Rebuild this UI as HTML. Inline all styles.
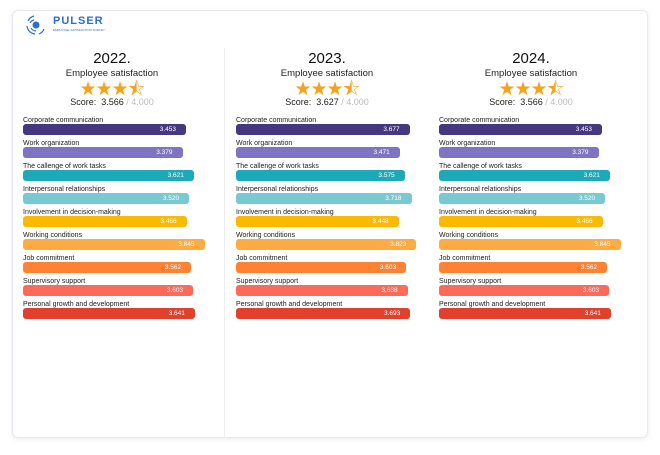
<!DOCTYPE html>
<html><head><meta charset="utf-8"><style>
*{margin:0;padding:0;box-sizing:border-box}
body{width:660px;height:455px;background:#fff;font-family:"Liberation Sans",sans-serif;position:relative;overflow:hidden}
.card{position:absolute;left:12px;top:10px;width:636px;height:428px;border:1px solid #e6e8ee;border-radius:6px;box-shadow:0 1px 6px rgba(0,0,0,.08);background:#fff}
.sep{position:absolute;left:224px;top:48px;width:1px;height:390px;background:#eceef2}
.yr{position:absolute;width:200px;text-align:center;top:50px;font-size:15px;color:#111}
.es{position:absolute;width:200px;text-align:center;top:68px;font-size:9.5px;color:#222}
.st{position:absolute;width:200px;text-align:center;top:75px;font-size:19px;color:#f7a21b;letter-spacing:-1px}
.sc{position:absolute;width:200px;text-align:center;top:97px;font-size:9px;color:#222}
.sc span{color:#bbb}
.lb{position:absolute;font-size:7px;color:#222;white-space:nowrap}
.bar{position:absolute;height:11px;border-radius:3px;color:#fff;font-size:6.5px;text-align:right;padding-right:10px;line-height:11px}
</style></head><body>
<div class="card"></div>
<div class="sep"></div>
<svg style="position:absolute;left:24px;top:13px" width="24" height="24" viewBox="0 0 24 24"><circle cx="12" cy="12" r="3.5" fill="#2a6fc9"/><path d="M4 8a9 9 0 0 1 6-5M3 13a9 9 0 0 0 8 8M20 16a9 9 0 0 1-5 5M6 10a6 6 0 0 1 4-3M7 15a6 6 0 0 0 5 3" stroke="#2a6fc9" stroke-width="1.2" fill="none"/></svg>
<div style="position:absolute;left:53px;top:15px;font-size:11px;font-weight:bold;color:#2a6fc9;letter-spacing:1px">PULSER</div>
<div style="position:absolute;left:53px;top:28px;font-size:3px;color:#2a6fc9">EMPLOYEE SATISFACTION SURVEY</div>
<div id="c"></div>
<script>
const names=["Corporate communication","Work organization","The callenge of work tasks","Interpersonal relationships","Involvement in decision-making","Working conditions","Job commitment","Supervisory support","Personal growth and development"];
const colors=["#46387f","#7f73c4","#1ea9b8","#79c9d3","#fbb900","#fdab45","#fe8231","#fe6a5a","#e0402c"];
const cols=[{x:23,cx:112,y:"2022.",s:"3.566",v:[3.453,3.379,3.621,3.520,3.466,3.845,3.562,3.603,3.641]},
{x:236,cx:327,y:"2023.",s:"3.627",v:[3.677,3.471,3.575,3.718,3.448,3.823,3.603,3.638,3.693]},
{x:439,cx:531,y:"2024.",s:"3.566",v:[3.453,3.379,3.621,3.520,3.466,3.845,3.562,3.603,3.641]}];
let h="";
for(const c of cols){const l=c.cx-100;
h+=`<div class="yr" style="left:${l}px">${c.y}</div><div class="es" style="left:${l}px">Employee satisfaction</div><div class="st" style="left:${l}px">★★★⯪</div><div class="sc" style="left:${l}px">Score:&nbsp; ${c.s} <span>/ 4.000</span></div>`;
c.v.forEach((v,i)=>{const y=115+i*23;
h+=`<div class="lb" style="left:${c.x}px;top:${y+2}px">${names[i]}</div><div class="bar" style="left:${c.x}px;top:${y+9}px;width:${(v*47.2).toFixed(1)}px;background:${colors[i]}">${v.toFixed(3)}</div>`;});}
document.getElementById("c").innerHTML=h;
</script>
</body></html>
